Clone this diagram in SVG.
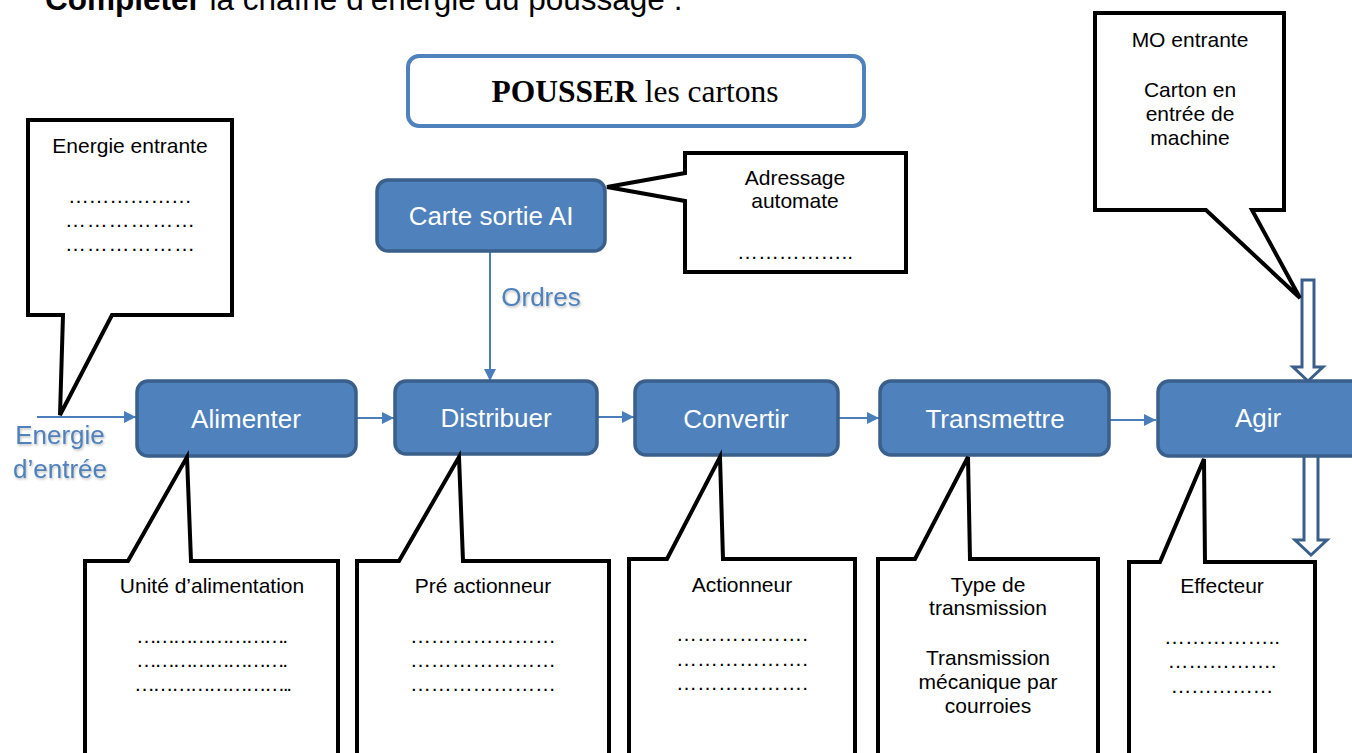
<svg xmlns="http://www.w3.org/2000/svg" width="1352" height="753" viewBox="0 0 1352 753">
<defs>
<style>
.box{fill:#4f81bd;stroke:#3a5f8b;stroke-width:3.5}
.lbl{font-family:"Liberation Sans",Arial,sans-serif;font-size:26px;fill:#fff;text-anchor:middle}
.co{fill:#fff;stroke:#000;stroke-width:4;stroke-linejoin:miter}
.ct{font-family:"Liberation Sans",Arial,sans-serif;font-size:21px;fill:#000;text-anchor:middle}
.con{stroke:#4a7ebb;stroke-width:2;fill:none}
.blue{font-family:"Liberation Sans",Arial,sans-serif;font-size:26px;fill:#4f81bd;text-anchor:middle}
.hol{fill:#fff;stroke:#3a5f8b;stroke-width:3;stroke-linejoin:miter}
</style>
<marker id="ah" viewBox="0 0 10 10" refX="10" refY="5" markerWidth="7" markerHeight="6" markerUnits="strokeWidth" orient="auto">
<path d="M0,0 L10,5 L0,10 Z" fill="#4a7ebb"/>
</marker>
<filter id="sh" x="-10%" y="-20%" width="130%" height="150%">
<feDropShadow dx="1" dy="1.5" stdDeviation="0.8" flood-color="#000" flood-opacity="0.25"/>
</filter>
</defs>
<rect width="1352" height="753" fill="#fff"/>

<g id="heading">
<text x="45" y="10" font-family="'Liberation Sans',Arial,sans-serif" font-size="31.5" fill="#000"><tspan font-weight="bold">Compléter</tspan> la chaîne d’énergie du poussage :</text>
</g>

<g id="title">
<rect x="408" y="56" width="456" height="70" rx="11" fill="#fff" stroke="#4f81bd" stroke-width="4"/>
<text x="635" y="102" font-family="'Liberation Serif','Times New Roman',serif" font-size="31.5" text-anchor="middle" fill="#000"><tspan font-weight="bold">POUSSER</tspan> les cartons</text>
</g>

<g id="connectors">
<line class="con" x1="37" y1="417" x2="136" y2="417" marker-end="url(#ah)"/>
<line class="con" x1="356" y1="418" x2="394" y2="418" marker-end="url(#ah)"/>
<line class="con" x1="597" y1="417" x2="634" y2="417" marker-end="url(#ah)"/>
<line class="con" x1="838" y1="418" x2="879" y2="418" marker-end="url(#ah)"/>
<line class="con" x1="1109" y1="420" x2="1156" y2="420" marker-end="url(#ah)"/>
<line class="con" x1="490" y1="252" x2="490" y2="381" marker-end="url(#ah)"/>
<path class="hol" d="M1302,280 H1314 V367 H1323 L1308,381 L1293,367 H1302 Z"/>
<path class="hol" d="M1304,455 H1318 V540 H1327 L1311,555 L1295,540 H1304 Z"/>
</g>

<g id="energie-entree">
<text class="blue" x="60" y="444" filter="url(#sh)">Energie</text>
<text class="blue" x="60" y="478" filter="url(#sh)">d’entrée</text>
</g>
<g id="ordres">
<text class="blue" x="541" y="306" filter="url(#sh)">Ordres</text>
</g>

<g id="carte">
<rect class="box" x="377" y="180" width="228" height="71" rx="11"/>
<text class="lbl" x="491" y="225">Carte sortie AI</text>
</g>
<g id="alimenter">
<rect class="box" x="137" y="381" width="219" height="75" rx="11"/>
<text class="lbl" x="246" y="428">Alimenter</text>
</g>
<g id="distribuer">
<rect class="box" x="395" y="381" width="202" height="73" rx="11"/>
<text class="lbl" x="496" y="427">Distribuer</text>
</g>
<g id="convertir">
<rect class="box" x="635" y="381" width="203" height="74" rx="11"/>
<text class="lbl" x="736" y="428">Convertir</text>
</g>
<g id="transmettre">
<rect class="box" x="880" y="381" width="229" height="74" rx="11"/>
<text class="lbl" x="995" y="428">Transmettre</text>
</g>
<g id="agir">
<rect class="box" x="1158" y="381" width="210" height="75" rx="11"/>
<text class="lbl" x="1258" y="427">Agir</text>
</g>

<g id="callout-energie">
<path class="co" d="M28,120 H232 V315 H112 L60,415 L63,315 H28 Z"/>
<text class="ct" x="130" y="153">Energie entrante</text>
<text class="ct" x="130" y="203" textLength="124" lengthAdjust="spacing">………………</text>
<text class="ct" x="130" y="227" textLength="130" lengthAdjust="spacing">………………</text>
<text class="ct" x="130" y="251" textLength="130" lengthAdjust="spacing">………………</text>
</g>

<g id="callout-adressage">
<path class="co" d="M685,153 H906 V272 H685 V201 L607,187 L685,173 Z"/>
<text class="ct" x="795" y="185">Adressage</text>
<text class="ct" x="795" y="208">automate</text>
<text class="ct" x="795" y="259" textLength="116" lengthAdjust="spacing">……………..</text>
</g>

<g id="callout-mo">
<path class="co" d="M1095,13 H1284 V210 H1252 L1300,298 L1206,210 H1095 Z"/>
<text class="ct" x="1190" y="47">MO entrante</text>
<text class="ct" x="1190" y="97">Carton en</text>
<text class="ct" x="1190" y="121">entrée de</text>
<text class="ct" x="1190" y="145">machine</text>
</g>

<g id="callout-unite">
<path class="co" d="M85,561 H128 L187,457 L191,561 H338 V770 H85 Z"/>
<text class="ct" x="212" y="593">Unité d’alimentation</text>
<text class="ct" x="212" y="643" textLength="152" lengthAdjust="spacing">…………………….</text>
<text class="ct" x="212" y="667" textLength="152" lengthAdjust="spacing">…………………….</text>
<text class="ct" x="213" y="691" textLength="158" lengthAdjust="spacing">……………………..</text>
</g>

<g id="callout-preact">
<path class="co" d="M357,561 H399 L459,457 L463,561 H609 V770 H357 Z"/>
<text class="ct" x="483" y="593">Pré actionneur</text>
<text class="ct" x="483" y="643" textLength="146" lengthAdjust="spacing">…………………</text>
<text class="ct" x="483" y="667" textLength="146" lengthAdjust="spacing">…………………</text>
<text class="ct" x="483" y="691" textLength="146" lengthAdjust="spacing">…………………</text>
</g>

<g id="callout-actionneur">
<path class="co" d="M629,559 H667 L720,457 L723,559 H855 V770 H629 Z"/>
<text class="ct" x="742" y="592">Actionneur</text>
<text class="ct" x="742" y="641" textLength="132" lengthAdjust="spacing">……………….</text>
<text class="ct" x="742" y="666" textLength="132" lengthAdjust="spacing">……………….</text>
<text class="ct" x="742" y="690" textLength="132" lengthAdjust="spacing">……………….</text>
</g>

<g id="callout-transmission">
<path class="co" d="M878,559 H915 L968,457 L970,559 H1098 V770 H878 Z"/>
<text class="ct" x="988" y="592">Type de</text>
<text class="ct" x="988" y="615">transmission</text>
<text class="ct" x="988" y="665">Transmission</text>
<text class="ct" x="988" y="689">mécanique par</text>
<text class="ct" x="988" y="713">courroies</text>
</g>

<g id="callout-effecteur">
<path class="co" d="M1129,562 H1160 L1204,459 L1205,562 H1315 V770 H1129 Z"/>
<text class="ct" x="1222" y="593">Effecteur</text>
<text class="ct" x="1222" y="644" textLength="116" lengthAdjust="spacing">……………..</text>
<text class="ct" x="1222" y="668" textLength="109" lengthAdjust="spacing">…………….</text>
<text class="ct" x="1222" y="693" textLength="103" lengthAdjust="spacing">……………</text>
</g>
</svg>
